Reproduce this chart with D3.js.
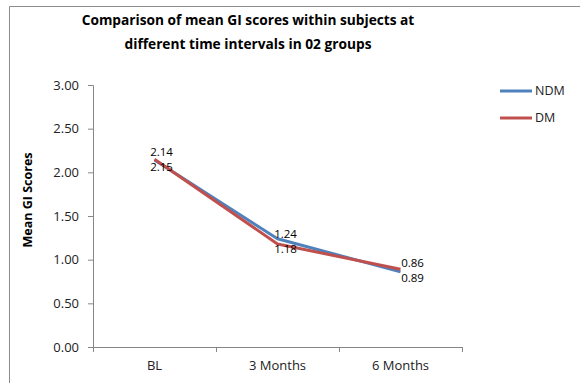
<!DOCTYPE html>
<html><head><meta charset="utf-8">
<script src="https://cdn.jsdelivr.net/npm/d3@7"></script>
<style>body{margin:0;background:#fff}svg{display:block}text{font-family:"Open Sans","Liberation Sans",sans-serif}</style>
</head><body>
<svg id="c" width="580" height="383"></svg>
<script>
const categories = ["BL", "3 Months", "6 Months"];
const seriesNames = ["NDM", "DM"];
const ndmValues = [2.14, 1.24, 0.86];
const dmValues = [2.15, 1.18, 0.89];
const yTicks = [0, 0.5, 1, 1.5, 2, 2.5, 3];
const titleLines = ["Comparison of mean GI scores within subjects at", "different time intervals in 02 groups"];
const yTitle = "Mean GI Scores";
const colors = ["#4F81BD", "#C0504D"];

const svg = d3.select("#c");
svg.append("path").attr("d","M9.5,383 V6.5 H580").attr("fill","none").attr("stroke","#8c8c8c").attr("stroke-width",1);

const m = {left:93, right:462, top:85, bottom:347};
const x = d3.scaleBand().domain(categories).range([m.left, m.right]);
const y = d3.scaleLinear().domain([0,3]).range([m.bottom, m.top]);

titleLines.forEach((t,i)=>{
  const tx = svg.append("text").text(t).attr("x",248).attr("y",25+i*24)
    .attr("text-anchor","middle").attr("font-weight","bold").attr("font-size",15).attr("fill","#000");
  const target = i===0 ? 333 : 247;
  const w = tx.node().getComputedTextLength();
  tx.attr("font-size", 15*target/w);
});

const ya = svg.append("g").attr("transform",`translate(${m.left},0)`)
  .call(d3.axisLeft(y).tickValues(yTicks).tickFormat(d3.format(".2f")).tickSizeOuter(0).tickSize(5).tickPadding(9));
ya.select(".domain").attr("stroke","#868686");
ya.selectAll(".tick line").attr("stroke","#868686");
ya.selectAll("text").attr("font-size",13).attr("fill","#222").attr("font-family","'Open Sans',sans-serif");

const xa = svg.append("g").attr("transform",`translate(0,${m.bottom})`)
  .call(d3.axisBottom(x).tickSize(0).tickPadding(14));
xa.select(".domain").attr("stroke","#868686");
xa.selectAll("text").attr("font-size",13).attr("fill","#222");
const edges = categories.map(c=>x(c)).concat([m.right]);
xa.selectAll(".edge").data(edges).join("line").attr("class","edge")
  .attr("x1",d=>d+0.5).attr("x2",d=>d+0.5).attr("y1",0).attr("y2",5).attr("stroke","#868686");

svg.append("text").text(yTitle).attr("transform","translate(32,200) rotate(-90)")
  .attr("text-anchor","middle").attr("font-weight","bold").attr("font-size",12.5).attr("fill","#000");

const cx = c => x(c) + x.bandwidth()/2;
const series = [ndmValues, dmValues];
const line = d3.line().x((d,i)=>cx(categories[i])).y(d=>y(d));
series.forEach((vals,si)=>{
  svg.append("path").datum(vals).attr("d",line).attr("fill","none")
    .attr("stroke",colors[si]).attr("stroke-width",3).attr("stroke-linejoin","round");
});

const labelDx = [7, 8, 12];
categories.forEach((c,i)=>{
  const mid = (y(ndmValues[i]) + y(dmValues[i]))/2;
  svg.append("text").text(ndmValues[i].toFixed(2)).attr("x",cx(c)+labelDx[i]).attr("y",mid-7.5)
    .attr("text-anchor","middle").attr("dy","0.35em").attr("font-size",11.5).attr("fill","#000");
  svg.append("text").text(dmValues[i].toFixed(2)).attr("x",cx(c)+labelDx[i]).attr("y",mid+7.5)
    .attr("text-anchor","middle").attr("dy","0.35em").attr("font-size",11.5).attr("fill","#000");
});

seriesNames.forEach((n,i)=>{
  const ly = 91 + i*27;
  svg.append("line").attr("x1",500).attr("x2",532).attr("y1",ly).attr("y2",ly)
    .attr("stroke",colors[i]).attr("stroke-width",3);
  svg.append("text").text(n).attr("x",535).attr("y",ly).attr("dy","0.35em")
    .attr("font-size",12.5).attr("fill","#222");
});
</script>
</body></html>
